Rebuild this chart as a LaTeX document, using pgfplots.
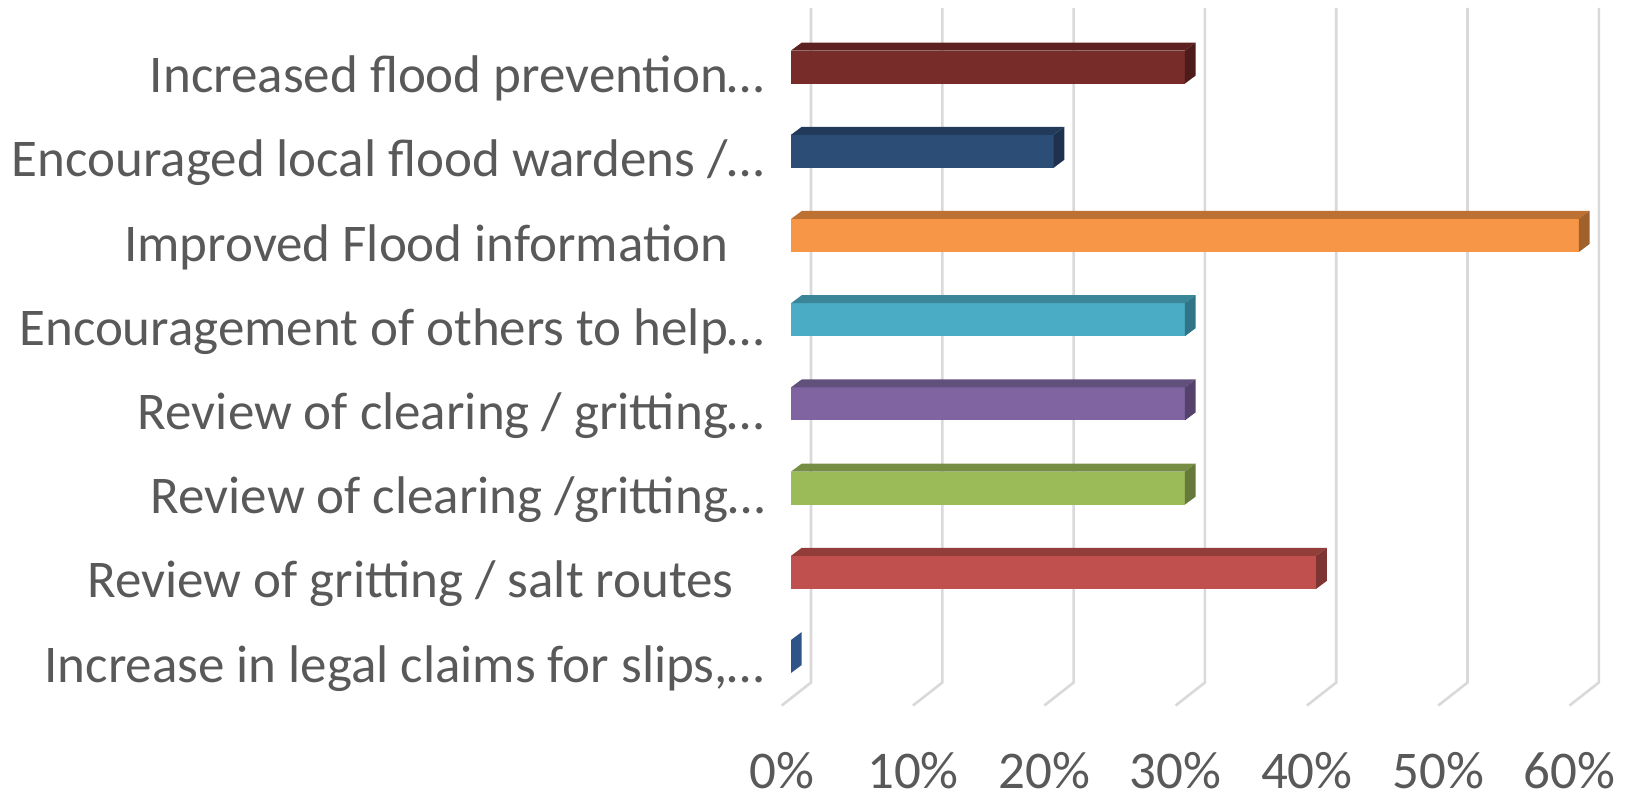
\documentclass[border=0pt]{standalone}
\usepackage{pgfplots}
\pgfplotsset{compat=1.18}
\usepackage{fontspec}
\setmainfont{Carlito}
\definecolor{txt}{HTML}{595959}
\definecolor{grid}{HTML}{D9D9D9}
\definecolor{aF}{HTML}{772C2A}\definecolor{aT}{HTML}{5C2120}\definecolor{aS}{HTML}{4D1B1A}
\definecolor{bF}{HTML}{2C4D75}\definecolor{bT}{HTML}{223B5A}\definecolor{bS}{HTML}{1E3250}
\definecolor{cF}{HTML}{F79646}\definecolor{cT}{HTML}{BC7132}\definecolor{cS}{HTML}{A0612D}
\definecolor{dF}{HTML}{4BACC6}\definecolor{dT}{HTML}{3A8698}\definecolor{dS}{HTML}{317387}
\definecolor{eF}{HTML}{8064A2}\definecolor{eT}{HTML}{62507C}\definecolor{eS}{HTML}{55426C}
\definecolor{fF}{HTML}{9BBB59}\definecolor{fT}{HTML}{768E43}\definecolor{fS}{HTML}{66793A}
\definecolor{gF}{HTML}{C0504D}\definecolor{gT}{HTML}{923D3A}\definecolor{gS}{HTML}{7D3432}
\definecolor{hF}{HTML}{4F81BD}\definecolor{hT}{HTML}{3C6290}\definecolor{hS}{HTML}{2F5487}
\begin{document}
\begin{tikzpicture}
\begin{axis}[
  x=6.565pt, y=42.1pt,
  xmin=-60.245, xmax=63.67, ymin=-1.657, ymax=7.797,
  clip=false,
  axis line style={draw=none},
  tick style={draw=none},
  major tick length=0pt,
  xtick={0,10,...,60},
  xticklabels={0\%,10\%,20\%,30\%,40\%,50\%,60\%},
  ytick={0,...,7},
  yticklabels={{Increase in legal claims for slips,…},
               {Review of gritting / salt routes\hspace*{15.5pt}},
               {Review of clearing /gritting…},
               {Review of clearing / gritting…},
               {Encouragement of others to help…},
               {Improved Flood information\hspace*{18pt}},
               {Encouraged local flood wardens /…},
               {Increased flood prevention…}},
  every tick label/.append style={font=\fontsize{26.5}{30}\selectfont, text=txt, inner sep=0pt},
  xticklabel style={anchor=base, xshift=-4.65pt, yshift=3.6pt},
  yticklabel style={anchor=base east, xshift=382.5pt, yshift=-12.75pt},
  xbar, bar width=0.392, bar shift=0pt,
]
% gridlines (back wall + floor)
\addplot[xbar=false, sharp plot, draw=grid, line width=1.3pt] coordinates {(1.523,7.702) (1.523,-0.309) (-0.708,-0.582)};
\addplot[xbar=false, sharp plot, draw=grid, line width=1.3pt] coordinates {(11.523,7.702) (11.523,-0.309) (9.292,-0.582)};
\addplot[xbar=false, sharp plot, draw=grid, line width=1.3pt] coordinates {(21.523,7.702) (21.523,-0.309) (19.292,-0.582)};
\addplot[xbar=false, sharp plot, draw=grid, line width=1.3pt] coordinates {(31.523,7.702) (31.523,-0.309) (29.292,-0.582)};
\addplot[xbar=false, sharp plot, draw=grid, line width=1.3pt] coordinates {(41.523,7.702) (41.523,-0.309) (39.292,-0.582)};
\addplot[xbar=false, sharp plot, draw=grid, line width=1.3pt] coordinates {(51.523,7.702) (51.523,-0.309) (49.292,-0.582)};
\addplot[xbar=false, sharp plot, draw=grid, line width=1.3pt] coordinates {(61.523,7.702) (61.523,-0.309) (59.292,-0.582)};
% bar 7: 30%
\addplot[fill=aF, draw=none] coordinates {(30,7)};
\addplot[xbar=false, sharp plot, fill=aT, draw=none] coordinates {(0,7.196) (0.815,7.291) (30.815,7.291) (30,7.196)} --cycle;
\addplot[xbar=false, sharp plot, fill=aS, draw=none] coordinates {(30,6.804) (30,7.196) (30.815,7.291) (30.815,6.899)} --cycle;
% bar 6: 20%
\addplot[fill=bF, draw=none] coordinates {(20,6)};
\addplot[xbar=false, sharp plot, fill=bT, draw=none] coordinates {(0,6.196) (0.815,6.291) (20.815,6.291) (20,6.196)} --cycle;
\addplot[xbar=false, sharp plot, fill=bS, draw=none] coordinates {(20,5.804) (20,6.196) (20.815,6.291) (20.815,5.899)} --cycle;
% bar 5: 60%
\addplot[fill=cF, draw=none] coordinates {(60,5)};
\addplot[xbar=false, sharp plot, fill=cT, draw=none] coordinates {(0,5.196) (0.815,5.291) (60.815,5.291) (60,5.196)} --cycle;
\addplot[xbar=false, sharp plot, fill=cS, draw=none] coordinates {(60,4.804) (60,5.196) (60.815,5.291) (60.815,4.899)} --cycle;
% bar 4: 30%
\addplot[fill=dF, draw=none] coordinates {(30,4)};
\addplot[xbar=false, sharp plot, fill=dT, draw=none] coordinates {(0,4.196) (0.815,4.291) (30.815,4.291) (30,4.196)} --cycle;
\addplot[xbar=false, sharp plot, fill=dS, draw=none] coordinates {(30,3.804) (30,4.196) (30.815,4.291) (30.815,3.899)} --cycle;
% bar 3: 30%
\addplot[fill=eF, draw=none] coordinates {(30,3)};
\addplot[xbar=false, sharp plot, fill=eT, draw=none] coordinates {(0,3.196) (0.815,3.291) (30.815,3.291) (30,3.196)} --cycle;
\addplot[xbar=false, sharp plot, fill=eS, draw=none] coordinates {(30,2.804) (30,3.196) (30.815,3.291) (30.815,2.899)} --cycle;
% bar 2: 30%
\addplot[fill=fF, draw=none] coordinates {(30,2)};
\addplot[xbar=false, sharp plot, fill=fT, draw=none] coordinates {(0,2.196) (0.815,2.291) (30.815,2.291) (30,2.196)} --cycle;
\addplot[xbar=false, sharp plot, fill=fS, draw=none] coordinates {(30,1.804) (30,2.196) (30.815,2.291) (30.815,1.899)} --cycle;
% bar 1: 40%
\addplot[fill=gF, draw=none] coordinates {(40,1)};
\addplot[xbar=false, sharp plot, fill=gT, draw=none] coordinates {(0,1.196) (0.815,1.291) (40.815,1.291) (40,1.196)} --cycle;
\addplot[xbar=false, sharp plot, fill=gS, draw=none] coordinates {(40,0.804) (40,1.196) (40.815,1.291) (40.815,0.899)} --cycle;
% bar 0: 0%
\addplot[xbar=false, sharp plot, fill=hS, draw=none] coordinates {(0,-0.196) (0,0.196) (0.815,0.291) (0.815,-0.101)} --cycle;
\end{axis}
\pgfresetboundingbox
\path[use as bounding box] (current axis.south west) rectangle (current axis.north east);
\end{tikzpicture}
\end{document}
